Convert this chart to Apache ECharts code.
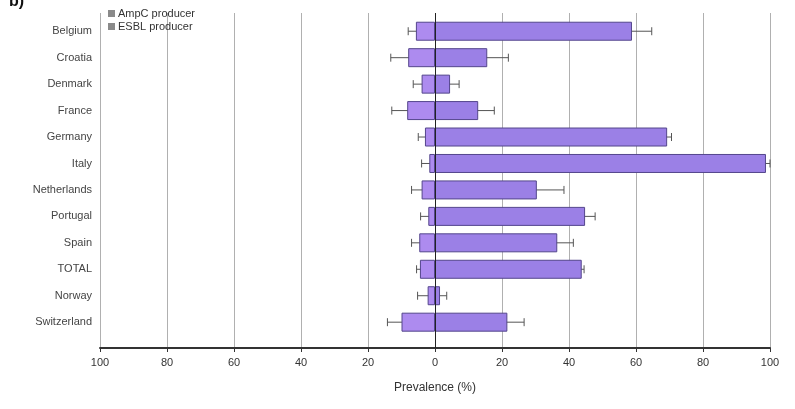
<!DOCTYPE html>
<html>
<head>
<meta charset="utf-8">
<script src="https://cdn.jsdelivr.net/npm/echarts@6/dist/echarts.min.js"></script>
<style>
  html, body { margin: 0; padding: 0; background: #fff; }
  #chart { width: 795px; height: 409px; }
</style>
</head>
<body>
<div id="chart"></div>
<script>
  // categories, top to bottom
  const countries = ['Belgium', 'Croatia', 'Denmark', 'France', 'Germany', 'Italy',
    'Netherlands', 'Portugal', 'Spain', 'TOTAL', 'Norway', 'Switzerland'];

  // prevalence (%)
  const ampc = [5.7, 8, 4, 8.3, 3, 1.7, 4, 2, 4.7, 4.5, 2.2, 10];
  const ampcUpper = [8, 13.2, 6.5, 12.9, 5, 4, 7, 4.3, 7, 5.5, 5.2, 14.2];
  const esbl = [58.8, 15.6, 4.5, 12.9, 69.3, 98.8, 30.4, 44.8, 36.5, 43.8, 1.5, 21.6];
  const esblUpper = [64.7, 21.9, 7.2, 17.7, 70.6, 100, 38.5, 47.8, 41.3, 44.5, 3.5, 26.6];

  const chart = echarts.init(document.getElementById('chart'));

  const errData = [];
  for (let i = 0; i < countries.length; i++) {
    errData.push([i, -ampcUpper[i], esblUpper[i]]);
  }

  const barColor = '#9b80e6';
  const barBorder = '#54468c';
  const font = 'Liberation Sans';

  chart.setOption({
    backgroundColor: '#fff',
    animation: false,
    textStyle: { fontFamily: font },

    // panel letter, cut off at the top edge
    graphic: [{
      type: 'text',
      left: 9,
      top: -6,
      style: { text: 'b)', font: 'bold 16px ' + font, fill: '#111' }
    }],

    legend: {
      orient: 'vertical',
      left: 103,
      top: 3,
      itemWidth: 7,
      itemHeight: 7,
      itemGap: 2,
      icon: 'rect',
      textStyle: { fontSize: 11, color: '#333', padding: [0, 0, 0, -2] },
      data: [
        { name: 'AmpC producer', itemStyle: { color: '#8a8a8a', borderWidth: 0 } },
        { name: 'ESBL producer', itemStyle: { color: '#8a8a8a', borderWidth: 0 } }
      ]
    },

    // 0: bars, 1: frame with axis and grid lines
    grid: [
      { left: 100, right: 25, top: 18, height: 317.4 },
      { left: 100, right: 25, top: 13, bottom: 61 }
    ],

    xAxis: [{
      gridIndex: 0,
      type: 'value',
      min: -100,
      max: 100,
      interval: 20,
      show: false
    }, {
      gridIndex: 1,
      type: 'value',
      min: -100,
      max: 100,
      interval: 20,
      name: 'Prevalence (%)',
      nameLocation: 'middle',
      nameGap: 34,
      nameTextStyle: { fontSize: 12, color: '#333' },
      axisLine: { show: true, onZero: false, lineStyle: { color: '#333', width: 2 } },
      axisTick: { show: true, length: 4, lineStyle: { color: '#333' } },
      axisLabel: {
        fontSize: 11,
        color: '#333',
        margin: 9,
        formatter: v => String(Math.abs(v))
      },
      splitLine: { show: true, lineStyle: { color: '#b0b0b0', width: 1 } }
    }],

    yAxis: [{
      gridIndex: 0,
      type: 'category',
      data: countries,
      inverse: true,
      axisLine: { show: false },
      axisTick: { show: false },
      axisLabel: { fontSize: 11, color: '#444', margin: 8 }
    }, {
      gridIndex: 1,
      type: 'value',
      min: 0,
      max: 1,
      show: false
    }],

    series: [{
      name: 'error',
      type: 'custom',
      xAxisIndex: 0,
      yAxisIndex: 0,
      z: 1,
      data: errData,
      renderItem(params, api) {
        const y = api.value(0);
        const lo = api.coord([api.value(1), y]);
        const hi = api.coord([api.value(2), y]);
        const cap = 4;
        const style = { stroke: '#555', lineWidth: 1 };
        return {
          type: 'group',
          children: [
            { type: 'line', shape: { x1: lo[0], y1: lo[1], x2: hi[0], y2: hi[1] }, style },
            { type: 'line', shape: { x1: lo[0], y1: lo[1] - cap, x2: lo[0], y2: lo[1] + cap }, style },
            { type: 'line', shape: { x1: hi[0], y1: hi[1] - cap, x2: hi[0], y2: hi[1] + cap }, style }
          ]
        };
      }
    }, {
      name: 'AmpC producer',
      type: 'bar',
      stack: 'prev',
      xAxisIndex: 0,
      yAxisIndex: 0,
      z: 2,
      barWidth: 19,
      data: ampc.map(v => -v),
      itemStyle: { color: '#ad8bef', borderColor: barBorder, borderWidth: 1 }
    }, {
      name: 'ESBL producer',
      type: 'bar',
      stack: 'prev',
      xAxisIndex: 0,
      yAxisIndex: 0,
      z: 2,
      barWidth: 19,
      data: esbl,
      itemStyle: { color: barColor, borderColor: barBorder, borderWidth: 1 }
    }, {
      name: 'zero',
      type: 'line',
      xAxisIndex: 1,
      yAxisIndex: 1,
      data: [],
      z: 5,
      markLine: {
        silent: true,
        symbol: 'none',
        label: { show: false },
        lineStyle: { color: '#222', width: 1, type: 'solid' },
        data: [{ xAxis: 0 }]
      }
    }]
  });
</script>
</body>
</html>
